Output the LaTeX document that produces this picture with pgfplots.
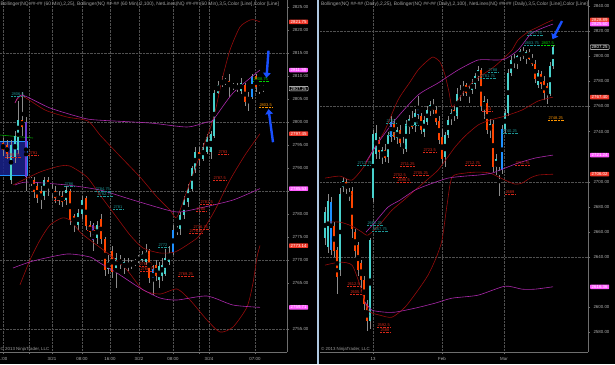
\documentclass[border=0pt]{standalone}
\usepackage{pgfplots}
\pgfplotsset{compat=1.18}
\usepackage{pgfplotstable}
\usepackage{fontspec}
\setmainfont{Liberation Sans}
\usetikzlibrary{arrows.meta}

\definecolor{gridc}{RGB}{80,80,80}
\definecolor{axc}{RGB}{110,110,110}
\definecolor{labc}{RGB}{175,175,175}
\definecolor{hdrc}{RGB}{160,160,160}
\definecolor{cup}{RGB}{72,209,204}
\definecolor{cdn}{RGB}{255,69,0}
\definecolor{cblue}{RGB}{30,144,255}
\definecolor{cpurp}{RGB}{110,60,210}
\definecolor{wick}{RGB}{140,140,140}
\definecolor{bbr}{RGB}{150,12,12}
\definecolor{bbm}{RGB}{170,40,170}
\definecolor{tagred}{RGB}{240,55,40}
\definecolor{tagmag}{RGB}{255,90,255}
\definecolor{nteal}{RGB}{30,150,150}
\definecolor{nred}{RGB}{215,40,25}
\definecolor{ngreen}{RGB}{0,210,0}
\definecolor{norange}{RGB}{255,150,0}
\definecolor{arrowb}{RGB}{25,80,255}
\definecolor{sepc}{RGB}{175,200,225}
\definecolor{boxb}{RGB}{25,35,140}

% 60 min candles: x (bar position), open, high, low, close, type (0 down,1 up,2 blue,3 purple)
\pgfplotstableread{
x o h l c t
3 2795.5 2796.5 2792.5 2794.0 0
7 2795.0 2796.0 2792.0 2793.0 0
11 2787.5 2796.0 2786.5 2795.0 1
15 2792.5 2798.0 2791.0 2797.0 1
18 2794.0 2804.5 2793.0 2800.5 1
22 2800.5 2806.5 2797.0 2799.0 0
26 2800.0 2801.0 2785.0 2788.0 3
31 2787.5 2788.0 2786.0 2787.3 1
34 2787.4 2788.0 2783.5 2784.8 0
37 2786.0 2787.0 2782.5 2783.5 0
41 2785.0 2786.0 2781.0 2783.0 0
44 2784.0 2788.0 2783.0 2787.4 1
48 2787.4 2788.0 2784.0 2785.6 0
52 2784.5 2786.5 2783.5 2785.5 1
55 2785.0 2786.0 2782.5 2783.5 0
59 2784.0 2785.0 2782.0 2783.0 0
62 2784.0 2785.0 2781.5 2782.5 0
66 2783.0 2786.0 2782.0 2785.2 1
70 2785.0 2785.5 2777.5 2778.7 0
74 2779.5 2780.0 2776.0 2778.0 0
78 2777.6 2781.0 2776.5 2780.2 1
82 2780.0 2784.0 2779.0 2783.0 1
86 2783.5 2784.0 2776.5 2777.5 0
90 2777.5 2778.5 2775.0 2776.0 0
93 2777.6 2778.0 2772.0 2774.3 3
97 2774.8 2778.5 2773.5 2777.6 1
101 2779.0 2780.0 2773.5 2774.5 0
105 2774.5 2775.0 2766.5 2767.8 0
108 2768.0 2771.0 2767.0 2769.5 1
112 2772.0 2773.0 2766.0 2767.5 0
116 2768.2 2771.5 2764.0 2770.4 1
120 2770.2 2771.0 2768.0 2769.3 0
124 2768.4 2770.5 2767.0 2769.5 1
128 2768.5 2770.5 2767.5 2769.0 1
131 2769.5 2770.0 2768.0 2768.8 0
135 2769.4 2770.2 2768.6 2769.6 1
138 2770.2 2771.0 2769.4 2770.4 1
142 2770.0 2772.0 2769.5 2771.4 1
146 2769.5 2773.5 2769.0 2771.8 1
149 2772.0 2772.5 2765.0 2766.0 0
153 2768.0 2769.0 2762.5 2765.5 2
156 2769.0 2770.0 2765.5 2766.5 0
159 2765.7 2769.5 2764.0 2768.8 1
162 2766.5 2770.5 2765.5 2769.0 1
165 2767.0 2772.5 2766.5 2770.5 1
169 2769.5 2773.0 2769.0 2771.6 1
173 2771.6 2777.5 2771.0 2776.5 2
177 2776.5 2777.5 2775.5 2776.7 1
180 2776.8 2780.5 2775.5 2779.8 1
184 2779.8 2784.0 2779.0 2783.0 1
188 2782.5 2786.5 2781.5 2785.5 1
192 2785.5 2790.5 2785.0 2790.0 1
195 2789.5 2794.5 2789.0 2793.5 1
199 2793.5 2794.5 2790.5 2791.7 0
203 2792.0 2795.5 2791.5 2794.5 1
207 2793.5 2797.5 2793.0 2796.8 1
211 2793.5 2798.0 2792.0 2797.4 1
214 2797.0 2807.0 2796.5 2806.3 1
218 2806.3 2809.0 2806.0 2808.0 1
222 2808.0 2810.0 2807.5 2808.9 1
225 2808.8 2809.5 2808.0 2809.0 1
229 2809.0 2810.5 2805.5 2807.6 0
233 2807.7 2808.5 2807.0 2807.9 1
237 2807.6 2808.5 2806.5 2807.5 0
241 2806.8 2809.5 2806.0 2808.5 1
245 2808.0 2808.5 2803.5 2804.3 0
248 2804.8 2806.5 2802.5 2805.3 1
252 2805.5 2810.5 2805.0 2810.0 2
256 2810.0 2810.5 2806.5 2807.6 0
259 2807.4 2808.0 2806.0 2807.6 1
263 2807.8 2808.0 2806.5 2807.25 0
}\lefttab

% daily candles
\pgfplotstableread{
x o h l c t
325 2655 2680 2650 2676 1
328 2648 2690 2643 2685 1
331 2684 2688 2642 2646 2
334 2665 2668 2640 2645 0
337 2646 2648 2611 2624 0
340 2630 2695 2625 2690 1
343 2695.5 2704 2692 2701 1
346 2700 2702 2690 2694 0
349 2689 2695 2685 2691 1
352 2693 2696 2655 2662 0
355 2660 2662 2640 2645 0
358 2650 2652 2625 2630 0
361 2635 2638 2615 2622 0
364 2622 2625 2598 2603 0
367 2603 2606 2581 2589 0
370 2589 2655 2583 2653.5 1
373 2687 2741 2684 2738 1
376 2722 2745 2718 2739 1
379 2733 2736 2718 2724 0
382 2720 2728 2714 2725 1
385 2725 2730 2716 2719 0
388 2720 2740 2715 2737 1
391 2736 2752 2732 2748 2
394 2747 2750 2733 2736 0
397 2735 2744 2730 2741 1
400 2741 2745 2728 2731 0
403 2730 2736 2722 2726 0
406 2726 2749 2724 2746 1
409 2744 2753 2738 2750 1
412 2749 2756 2742 2744 0
415 2745 2758 2740 2755 1
418 2753 2768 2750 2758 2
421 2752 2755 2738 2741 0
424 2740 2752 2736 2749 1
427 2748 2760 2745 2757 1
430 2756 2764 2752 2761 1
433 2761 2766 2754 2757 0
436 2757 2760 2745 2748 0
439 2748 2752 2730 2733 0
442 2736 2742 2714 2718 0
445 2720 2740 2712 2737 1
448 2737 2752 2735 2749 1
451 2750 2758 2745 2755 1
454 2757 2760 2748 2752 0
457 2752 2775 2750 2770 1
460 2770 2777 2764 2773 1
463 2773 2780 2768 2776 1
466 2777 2779 2768 2771 0
469 2771 2776 2763 2774 1
472 2773 2782 2770 2779 1
475 2778 2787 2774 2784 1
478 2784 2792 2780 2789 1
481 2789 2791 2756 2760 0
484 2760 2768 2750 2764 1
487 2763 2766 2738 2741 0
490 2741 2750 2735 2746 1
493 2746 2749 2708 2712 0
496 2712 2722 2705 2718 1
499 2705 2712 2689 2709 1
502 2709 2745 2706 2742 2
505 2742 2758 2738 2755 1
508 2755 2790 2752 2787 1
511 2787 2800 2784 2797 1
514 2797 2802 2791 2795 0
517 2795 2801 2790 2800 1
520 2800 2806 2796 2804 1
523 2804 2807 2798 2800 0
526 2799 2805 2794 2803 1
529 2803 2806 2797 2798 0
532 2798 2802 2792 2794 0
535 2794 2797 2779 2782 0
538 2777 2789 2775 2787 1
541 2786 2788 2774 2778 0
544 2780 2784 2765 2771 0
547 2776 2779 2762 2770 0
550 2770 2795 2768 2792 1
553 2792 2809 2790 2807.25 1
}\righttab

\newcommand{\tf}{\fontsize{4.4}{5}\selectfont}
\newcommand{\hf}{\fontsize{4.9}{5.5}\selectfont}
\newcommand{\nf}{\fontsize{4}{4.5}\selectfont}

\newcommand{\wicks}[1]{\addplot[only marks, mark=none, forget plot,
  error bars/.cd, y dir=both, y explicit, error mark=none,
  error bar style={line width=0.5pt, draw=wick}]
  table[x=x, y expr={(\thisrow{h}+\thisrow{l})/2}, y error expr={(\thisrow{h}-\thisrow{l})/2}] {#1};}
% #1 table, #2 width, #3 type, #4 colour, #5 minimal half height
\newcommand{\bodies}[5]{\addplot[only marks, mark=none, forget plot,
  y filter/.expression={\thisrow{t}==#3 ? y : nan},
  error bars/.cd, y dir=both, y explicit, error mark=none,
  error bar style={line width=#2, draw=#4}]
  table[x=x, y expr={(\thisrow{o}+\thisrow{c})/2}, y error expr={max(abs(\thisrow{o}-\thisrow{c})/2,#5)}] {#1};}
\newcommand{\nl}[4]{\node[anchor=south west, inner sep=0.3pt, font=\nf, text=#4] (nlt) at (axis cs:#1,#2) {#3};
  \draw[#4, densely dotted, line width=0.4pt] (nlt.south west) -- (nlt.south east);}

\tikzset{tag/.style={fill=#1, text=white, font=\tf, inner ysep=0.7pt, inner xsep=1.5pt, anchor=west, rounded corners=0.6pt},
  otag/.style={fill=black, draw=white, line width=0.4pt, text=white, font=\tf, inner ysep=0.7pt, inner xsep=1.5pt, anchor=west, rounded corners=0.6pt},
  barrow/.style={arrowb, line width=2.4pt, -{Triangle[length=5pt,width=7.5pt]}}}

\pgfplotsset{ninja/.style={
  scale only axis, anchor=south west, height=352pt,
  axis x line*=bottom, axis y line*=right,
  axis line style={-, draw=axc, line width=0.5pt},
  tick style={draw=axc, line width=0.4pt},
  major tick length=2pt, tick align=outside,
  xtick pos=lower, ytick pos=right, yticklabel pos=right,
  ticklabel style={font=\tf, text=labc},
  xmajorgrids=true, ymajorgrids=false,
  grid style={draw=gridc, densely dotted, line width=0.4pt},
  scaled y ticks=false,
  yticklabel style={/pgf/number format/fixed, /pgf/number format/fixed zerofill,
    /pgf/number format/precision=2, /pgf/number format/1000 sep={},
    /pgf/number format/assume math mode=true},
  extra y tick labels={}, extra y tick style={grid=major},
  every axis plot/.append style={line join=round},
}}

\begin{document}
\begin{tikzpicture}
\fill[black] (0,0) rectangle (615pt,364pt);

% ---------------- left panel: 60 min ----------------
\begin{axis}[ninja, at={(0pt,12pt)}, width=287pt,
  xmin=0, xmax=287, ymin=2750, ymax=2826.52,
  xtick={3,29,52,82,110,139,173,199,209,255},
  xticklabels={1:00,,3/21,08:00,16:00,3/22,08:00,,3/24,07:00},
  ytick={2755,2765,2770,2775,2780,2790,2795,2800,2805,2810,2815,2820,2825},
  extra y ticks={2755,2770,2785,2800,2815}]
\fill[boxb, fill opacity=0.85] (axis cs:0,2788.48) rectangle (axis cs:27,2795.87);
\draw[cblue, line width=0.5pt] (axis cs:0,2788.48) -- (axis cs:27,2788.48) -- (axis cs:27,2795.87) -- (axis cs:0,2795.87);
\draw[green!65!black, line width=0.6pt] (axis cs:0,2797.17) -- (axis cs:33,2796.52);
\wicks{\lefttab}
\bodies{\lefttab}{2.5pt}{0}{cdn}{0.15}
\bodies{\lefttab}{2.5pt}{1}{cup}{0.15}
\bodies{\lefttab}{2.5pt}{2}{cblue}{0.15}
\bodies{\lefttab}{2.5pt}{3}{cpurp}{0.15}
% Bollinger (2,25)
\addplot[bbr, line width=0.6pt, smooth, tension=0.4] coordinates {(15,2804.13) (22,2805.65) (45,2802.61) (67,2801.08) (88,2800.21) (100,2797.17) (117,2793.26) (140,2788.04) (157,2783.69) (170,2780.87) (177,2779.35) (190,2786.9) (200,2792.8) (213,2800.43) (222,2809.13) (230,2815.65) (240,2820.65) (250,2822.17) (255,2822.17) (260,2821.75)};
\addplot[bbr, line width=0.6pt, smooth, tension=0.4] coordinates {(13,2786.30) (40,2789.13) (60,2790.43) (70,2790.43) (87,2788.04) (100,2784.13) (115,2779.78) (130,2775.43) (143,2772.61) (160,2771.52) (175,2771.74) (190,2773.69) (200,2775.43) (215,2780.87) (230,2787.39) (245,2792.82) (260,2797.45)};
\addplot[bbr, line width=0.6pt, smooth, tension=0.4] coordinates {(20,2764.6) (30,2770.0) (40,2774.34) (50,2777.61) (62,2779.13) (70,2778.69) (80,2776.08) (90,2774.34) (110,2771.08) (127,2767.82) (143,2763.47) (160,2762.60) (177,2763.69) (190,2761.30) (207,2756.95) (220,2754.34) (233,2755.43) (247,2759.78) (253,2765.0) (257,2770.65) (260,2773.14)};
% Bollinger (2,100)
\addplot[bbm, line width=0.6pt, smooth, tension=0.4] coordinates {(15,2804.13) (22,2805.87) (50,2803.04) (83,2800.87) (97,2800.43) (150,2799.78) (187,2798.91) (207,2800.00) (213,2800.43) (233,2806.30) (260,2811.30)};
\addplot[bbm, line width=0.6pt, smooth, tension=0.4] coordinates {(15,2786.30) (27,2786.95) (67,2786.30) (100,2785.21) (133,2783.04) (167,2780.87) (180,2780.43) (200,2781.30) (233,2783.04) (260,2785.53)};
\addplot[bbm, line width=0.6pt, smooth, tension=0.4] coordinates {(13,2768.26) (33,2769.78) (67,2771.30) (90,2770.65) (100,2769.35) (117,2767.17) (140,2763.91) (160,2761.74) (177,2761.30) (207,2762.17) (233,2760.21) (260,2759.71)};
% NetLines labels
\nl{11}{2805.65}{2806.5}{nteal}
\nl{5}{2792.4}{2790.75}{nred}
\nl{28}{2792.8}{2791}{nred}
\nl{64}{2786.1}{2786}{nteal}
\nl{54}{2783.0}{2783}{nred}
\nl{95}{2785.0}{2784.75}{nteal}
\nl{97}{2783.9}{2782.75}{nteal}
\nl{113}{2781.1}{2781}{nteal}
\nl{87}{2776.5}{2775.75}{nred}
\nl{158}{2772.8}{2772}{nteal}
\nl{139}{2768.6}{2768.5}{nred}
\nl{140}{2767.6}{2766.75}{nred}
\nl{178}{2766.5}{2769.25}{nred}
\nl{200}{2782.2}{2781.5}{nred}
\nl{196}{2780.7}{2780}{nred}
\nl{193}{2776.7}{2776.75}{nred}
\nl{189}{2775.9}{2776.5}{nred}
\nl{218}{2793.0}{2793}{nred}
\nl{213}{2787.4}{2787.5}{nred}
\nl{253}{2808.9}{2808.75}{ngreen}
\nl{259}{2803.3}{2803.5}{norange}
% arrows
\draw[barrow] (axis cs:268.5,2815.5) -- (axis cs:266.5,2809.6);
\draw[barrow] (axis cs:273,2795.6) -- (axis cs:268.5,2802.8);
% tag anchors
\coordinate (L1) at (axis cs:287,2821.75);
\coordinate (L2) at (axis cs:287,2811.30);
\coordinate (L3) at (axis cs:287,2807.25);
\coordinate (L4) at (axis cs:287,2797.45);
\coordinate (L5) at (axis cs:287,2785.53);
\coordinate (L6) at (axis cs:287,2773.14);
\coordinate (L7) at (axis cs:287,2759.71);
\end{axis}

% ---------------- right panel: daily ----------------
\begin{axis}[ninja, at={(320pt,12pt)}, width=268pt,
  xmin=320, xmax=588, ymin=2564.4, ymax=2844.78,
  xtick={373,442,504}, xticklabels={13,Feb,Mar},
  ytick={2580,2600,2640,2660,2680,2700,2740,2760,2780,2800,2820,2840},
  extra y ticks={2640,2700,2760,2820}]
\wicks{\righttab}
\bodies{\righttab}{2.2pt}{0}{cdn}{0.5}
\bodies{\righttab}{2.2pt}{1}{cup}{0.5}
\bodies{\righttab}{2.2pt}{2}{cblue}{0.5}
% Bollinger (2,25)
\addplot[bbr, line width=0.6pt, smooth, tension=0.4] coordinates {(325,2702.91) (340,2704.51) (352,2701.32) (365,2713.27) (375,2727.62) (385,2741.17) (398,2765.08) (410,2779.43) (418,2788.99) (426,2795.37) (433,2799.35) (440,2795.37) (445,2785.01) (449,2771.46) (452,2759.50) (458,2765.08) (465,2773.05) (475,2781.02) (485,2786.60) (495,2792.18) (505,2799.35) (512,2804.93) (518,2812.90) (528,2819.28) (538,2823.26) (546,2826.45) (553,2828.89)};
\addplot[bbr, line width=0.6pt, smooth, tension=0.4] coordinates {(325,2667.85) (340,2667.85) (352,2664.66) (362,2659.88) (368,2657.49) (380,2666.25) (392,2677.41) (405,2686.18) (415,2693.35) (428,2702.12) (438,2709.29) (447,2718.85) (455,2727.62) (465,2736.39) (478,2745.16) (490,2749.14) (505,2752.33) (522,2757.11) (538,2764.28) (553,2767.40)};
\addplot[bbr, line width=0.6pt, smooth, tension=0.4] coordinates {(325,2633.58) (340,2635.97) (352,2633.58) (360,2617.63) (368,2597.71) (380,2593.72) (392,2592.13) (405,2600.10) (418,2613.65) (428,2625.60) (436,2639.15) (442,2653.50) (447,2681.40) (452,2703.71) (465,2706.90) (478,2707.70) (490,2706.90) (505,2701.32) (515,2698.13) (522,2698.93) (530,2702.91) (538,2705.31) (553,2706.02)};
% Bollinger (2,100)
\addplot[bbm, line width=0.6pt, smooth, tension=0.4] coordinates {(366,2715.67) (372,2723.64) (380,2733.22) (395,2749.14) (418,2769.07) (438,2778.63) (458,2788.99) (478,2796.96) (495,2796.96) (505,2797.76) (518,2804.93) (532,2818.48) (553,2825.60)};
\addplot[bbm, line width=0.6pt, smooth, tension=0.4] coordinates {(366,2659.88) (375,2667.85) (388,2679.80) (400,2685.38) (415,2693.35) (430,2698.13) (448,2702.91) (465,2704.51) (478,2705.31) (492,2706.90) (505,2710.88) (518,2714.87) (535,2718.85) (553,2721.24)};
\addplot[bbm, line width=0.6pt, smooth, tension=0.4] coordinates {(365,2604.09) (372,2597.71) (385,2596.12) (395,2596.12) (415,2599.30) (435,2603.29) (452,2607.27) (478,2609.66) (505,2616.84) (522,2614.45) (535,2614.45) (553,2616.36)};
% NetLines labels
\nl{357}{2713.3}{2713.75}{nteal}
\nl{367}{2665.5}{2662.25}{nteal}
\nl{372}{2660.7}{2657.75}{nteal}
\nl{347}{2616.8}{2612.5}{nred}
\nl{350}{2610.5}{2605.5}{nred}
\nl{377}{2584.2}{2592.5}{nred}
\nl{380}{2580.2}{2588}{nred}
\nl{386}{2746.7}{2743}{nteal}
\nl{405}{2745.2}{2746.5}{nteal}
\nl{388}{2737.2}{2738.5}{nteal}
\nl{400}{2712.5}{2711.25}{nred}
\nl{393}{2703.7}{2702.5}{nred}
\nl{397}{2699.7}{2698.5}{nred}
\nl{413}{2705.3}{2705.25}{nred}
\nl{423}{2723.6}{2723.5}{nred}
\nl{465}{2713.3}{2712.75}{nred}
\nl{515}{2713.3}{2711.75}{nred}
\nl{505}{2690.2}{2689}{nred}
\nl{502}{2738.8}{2740.25}{nteal}
\nl{482}{2756.3}{2763}{nred}
\nl{548}{2749.1}{2748.25}{norange}
\nl{488}{2787.4}{2788}{nteal}
\nl{480}{2782.4}{2781.75}{nteal}
\nl{527}{2817.0}{2817.75}{nteal}
\nl{524}{2808.9}{2803.75}{nteal}
\nl{541}{2808.9}{2807.5}{ngreen}
\draw[barrow] (axis cs:562,2828) -- (axis cs:552.5,2813.5);
\coordinate (R1) at (axis cs:588,2828.89);
\coordinate (R2) at (axis cs:588,2825.60);
\coordinate (R3) at (axis cs:588,2807.25);
\coordinate (R4) at (axis cs:588,2767.40);
\coordinate (R5) at (axis cs:588,2721.24);
\coordinate (R6) at (axis cs:588,2706.02);
\coordinate (R7) at (axis cs:588,2616.36);
\end{axis}

% price tags
\node[tag=tagred] at ([xshift=2pt]L1) {2821.75};
\node[tag=tagmag] at ([xshift=2pt]L2) {2811.30};
\node[otag] at ([xshift=2pt]L3) {2807.25};
\node[tag=tagred] at ([xshift=2pt]L4) {2797.45};
\node[tag=tagmag] at ([xshift=2pt]L5) {2785.53};
\node[tag=tagred] at ([xshift=2pt]L6) {2773.14};
\node[tag=tagmag] at ([xshift=2pt]L7) {2759.71};
\node[tag=tagred] at ([xshift=2pt]R1) {2828.89};
\node[tag=tagmag] at ([xshift=2pt]R2) {2825.60};
\node[otag] at ([xshift=2pt]R3) {2807.25};
\node[tag=tagred] at ([xshift=2pt]R4) {2767.40};
\node[tag=tagmag] at ([xshift=2pt]R5) {2721.24};
\node[tag=tagred] at ([xshift=2pt]R6) {2706.02};
\node[tag=tagmag] at ([xshift=2pt]R7) {2616.36};

% separator
\fill[sepc] (316.5pt,0) rectangle (318.5pt,364pt);

% headers
\begin{scope}
\clip (0,0) rectangle (287pt,364pt);
\node[anchor=north west, inner sep=0pt, font=\hf, text=hdrc] at (0.5pt,362pt) {Bollinger(NQ \#\#-\#\# (60 Min),2,25), Bollinger(NQ \#\#-\#\# (60 Min),2,100), NetLines(NQ \#\#-\#\# (60 Min),3,5,Color [Line],Color [Line]};
\node[anchor=west, inner sep=0pt, font=\tf, text=hdrc] at (0.5pt,15pt) {\textcopyright{} 2013 NinjaTrader, LLC};
\end{scope}
\begin{scope}
\clip (320pt,0) rectangle (588pt,364pt);
\node[anchor=north west, inner sep=0pt, font=\hf, text=hdrc] at (321pt,362pt) {Bollinger(NQ \#\#-\#\# (Daily),2,25), Bollinger(NQ \#\#-\#\# (Daily),2,100), NetLines(NQ \#\#-\#\# (Daily),3,5,Color [Line],Color [Line]};
\node[anchor=west, inner sep=0pt, font=\tf, text=hdrc] at (321pt,15pt) {\textcopyright{} 2013 NinjaTrader, LLC};
\end{scope}

\pgfresetboundingbox
\useasboundingbox (0,0) rectangle (615pt,364pt);
\end{tikzpicture}
\end{document}
